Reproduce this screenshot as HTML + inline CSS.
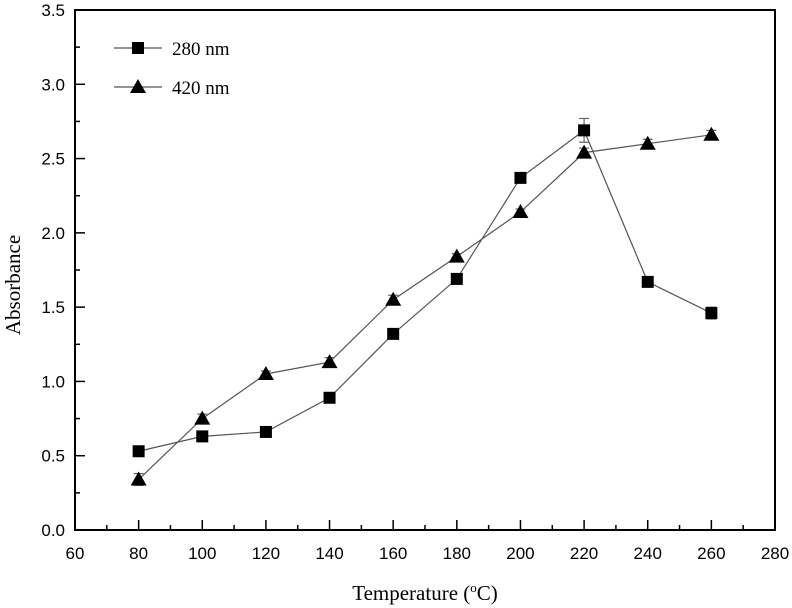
<!DOCTYPE html>
<html><head><meta charset="utf-8"><style>
body{margin:0;background:#fff}
svg{display:block}
.tk{font-family:"Liberation Sans",sans-serif;font-size:17px;fill:#000}
.sr{font-family:"Liberation Serif",serif;fill:#000}
</style></head><body>
<svg id="c" width="792" height="608" viewBox="0 0 792 608"></svg>
<script>
const xTicks=[60,80,100,120,140,160,180,200,220,240,260,280];
const yTicks=[0.0,0.5,1.0,1.5,2.0,2.5,3.0,3.5];
const temps=[80,100,120,140,160,180,200,220,240,260];
const abs280=[0.53,0.63,0.66,0.89,1.32,1.69,2.37,2.69,1.67,1.46];
const err280=[0.02,0.02,0.02,0.02,0.02,0.02,0.02,0.08,0.02,0.04];
const abs420=[0.34,0.75,1.05,1.13,1.55,1.84,2.14,2.54,2.60,2.66];
const err420=[0.04,0.03,0.02,0.03,0.03,0.02,0.02,0.03,0.03,0.03];
const L=75,R=775,T=10,B=530;
const X=v=>L+(v-60)/220*(R-L);
const Y=v=>B-v/3.5*(B-T);
const s=document.getElementById('c');const NS='http://www.w3.org/2000/svg';
function el(t,a,p){const e=document.createElementNS(NS,t);for(const k in a)e.setAttribute(k,a[k]);(p||s).appendChild(e);return e;}
let e;
e=el('rect',{x:L,y:T,width:R-L,height:B-T,fill:'none',stroke:'#000','stroke-width':2});


xTicks.forEach((v,i)=>{const x=X(v);
e=el('line',{x1:x,x2:x,y1:B,y2:B-10,stroke:'#000','stroke-width':1.5});


if(i<xTicks.length-1){e=el('line',{x1:x+(X(80)-X(60))/2,x2:x+(X(80)-X(60))/2,y1:B,y2:B-5,stroke:'#000','stroke-width':1.5});

}
e=el('text',{x:x,y:B+29,'text-anchor':'middle',class:'tk'});e.textContent=v;

});
yTicks.forEach((v,i)=>{const y=Y(v);
e=el('line',{x1:L,x2:L+10,y1:y,y2:y,stroke:'#000','stroke-width':1.5});


if(i<yTicks.length-1){e=el('line',{x1:L,x2:L+5,y1:y-(Y(0)-Y(0.5))/2,y2:y-(Y(0)-Y(0.5))/2,stroke:'#000','stroke-width':1.5});

}
e=el('text',{x:L-10,y:y+6,'text-anchor':'end',class:'tk'});e.textContent=v.toFixed(1);

});
function series(vals,errs,shape,name){
const pts=temps.map((t,i)=>X(t)+','+Y(vals[i])).join(' ');
e=el('polyline',{points:pts,fill:'none',stroke:'#555','stroke-width':1.2});


temps.forEach((t,i)=>{const x=X(t),y=Y(vals[i]),y1=Y(vals[i]+errs[i]),y2=Y(vals[i]-errs[i]);
e=el('path',{d:`M${x},${y1}V${y2}M${x-5},${y1}H${x+5}M${x-5},${y2}H${x+5}`,stroke:'#666','stroke-width':1.2});


if(shape==='sq')e=el('rect',{x:x-6,y:y-6,width:12,height:12,fill:'#000'});
else e=el('polygon',{points:`${x},${y-8} ${x-8},${y+6} ${x+8},${y+6}`,fill:'#000'});

});}
series(abs280,err280,'sq','series-280nm');
series(abs420,err420,'tri','series-420nm');
// legend
e=el('line',{x1:114,x2:162,y1:48,y2:48,stroke:'#555','stroke-width':1.2});


e=el('rect',{x:132,y:42,width:12,height:12,fill:'#000'});


e=el('text',{x:172,y:55,class:'sr','font-size':19});e.textContent='280 nm';


e=el('line',{x1:114,x2:162,y1:87,y2:87,stroke:'#555','stroke-width':1.2});


e=el('polygon',{points:'138,79 130,93 146,93',fill:'#000'});


e=el('text',{x:172,y:94,class:'sr','font-size':19});e.textContent='420 nm';


e=el('text',{x:425,y:600,'text-anchor':'middle',class:'sr','font-size':21});
e.innerHTML='Temperature (<tspan dy="-8" font-size="13">o</tspan><tspan dy="8">C)</tspan>';


e=el('text',{x:0,y:0,'text-anchor':'middle',class:'sr','font-size':21,transform:'translate(20,285) rotate(-90)'});e.textContent='Absorbance';


</script>
</body></html>
